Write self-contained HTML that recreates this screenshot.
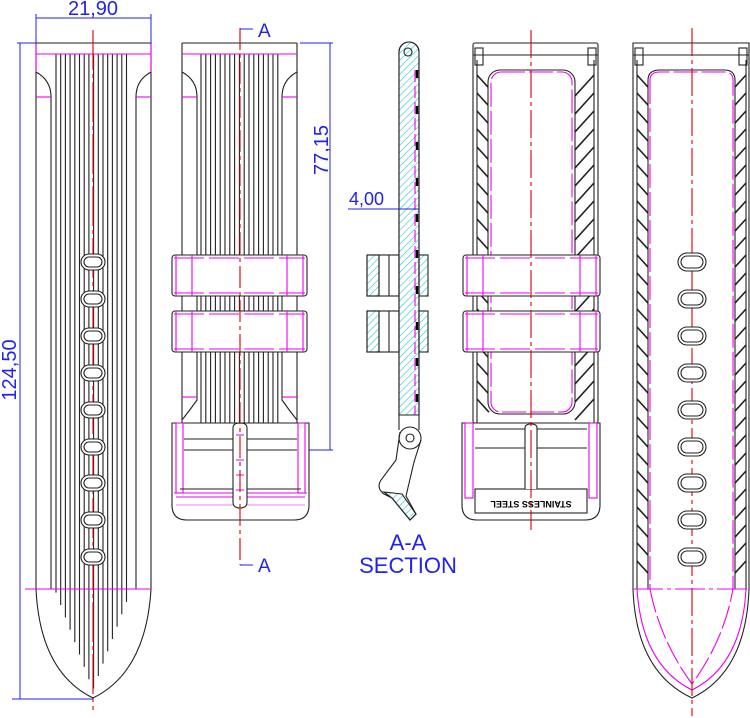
<!DOCTYPE html>
<html><head><meta charset="utf-8"><style>
html,body{margin:0;padding:0;background:#fff;}
svg{display:block;}
text{font-family:"Liberation Sans",sans-serif;}
</style></head><body>
<svg id="s" width="750" height="718" viewBox="0 0 750 718" xmlns="http://www.w3.org/2000/svg">
<defs>
<pattern id="cy" width="5" height="5" patternUnits="userSpaceOnUse" patternTransform="rotate(45)">
<line x1="0" y1="0" x2="0" y2="5" stroke="#22c8d8" stroke-width="1.2"/></pattern>
</defs>
<g fill="none" stroke="#222" stroke-width="1.1">
<!-- VIEW 1 -->
<path d="M36,43 L36,589 Q40,672 93,698 Q146,672 151,589 L151,43 Z"/>
<path d="M36,72 Q51,80 51,97 L51,589 M151,72 Q136,80 136,97 L136,589"/>
<g id="rib1"></g>
<line x1="36" y1="54" x2="151" y2="54" stroke="#e0e"/>
<line x1="36" y1="97" x2="51" y2="97" stroke="#e0e"/>
<line x1="136" y1="97" x2="151" y2="97" stroke="#e0e"/>
<line x1="36" y1="44" x2="36" y2="72" stroke="#e0e"/>
<line x1="151" y1="44" x2="151" y2="72" stroke="#e0e"/>
<line x1="25" y1="589" x2="151" y2="589" stroke="#e0e"/>
<line x1="93" y1="30" x2="93" y2="710" stroke="#d00" stroke-dasharray="40,4,4,4"/>
<g id="holes1"></g>
<!-- VIEW 2 -->
<path d="M182,43 L182,423 M297,43 L297,423 M182,43 L297,43"/>
<path d="M182,72 Q197,80 197,97 L197,400 Q190,410 182,420 M297,72 Q282,80 282,97 L282,400 Q289,410 297,420"/>
<g id="rib2"></g>
<line x1="182" y1="54" x2="297" y2="54" stroke="#e0e"/>
<line x1="182" y1="97" x2="197" y2="97" stroke="#e0e"/>
<line x1="282" y1="97" x2="297" y2="97" stroke="#e0e"/>
<line x1="182" y1="397" x2="197" y2="397" stroke="#e0e"/>
<line x1="282" y1="397" x2="297" y2="397" stroke="#e0e"/>
<g id="loops2"></g>
<!-- buckle 2 -->
<path d="M172,423 L172,505 Q172,520 187,520 L294,520 Q309,520 309,505 L309,423 Z" fill="#fff"/>
<rect x="176" y="423" width="7" height="70" stroke="#e0e"/>
<rect x="298" y="423" width="7" height="70" stroke="#e0e"/>
<line x1="184" y1="439" x2="297" y2="439"/>
<line x1="184" y1="450" x2="297" y2="450"/>
<line x1="180" y1="489" x2="301" y2="489"/>
<path d="M174,493 L307,493 M176,497 L305,497" stroke="#e0e"/>
<line x1="176" y1="505" x2="305" y2="505" stroke="#e0e" stroke-width=".6"/>
<path d="M233,502 L233,428 Q233,423 240,423 Q247,423 247,428 L247,502 Q247,508 240,508 Q233,508 233,502 Z" fill="#fff"/>
<path d="M236,435 L244,435 M236,460 L244,460 M236,475 L244,475 M236,490 L244,490" stroke="#e0e"/>
<line x1="240" y1="28" x2="240" y2="565" stroke="#d00" stroke-dasharray="22,4,4,4"/>
<!-- VIEW 3 section -->
<path d="M399,52 L399,415 L419,415 L419,52 A10,10 0 0 0 399,52 Z" fill="url(#cy)"/>
<path d="M399,52 L399,430 M419,58 L419,430 M399,52 A10,10 0 0 1 419,52"/>
<circle cx="408" cy="52" r="4"/>
<line x1="417" y1="70" x2="417" y2="415" stroke="#000" stroke-width="2.5" stroke-dasharray="8,28"/>
<line x1="415" y1="70" x2="415" y2="415" stroke="#e0e" stroke-dasharray="12,4"/>
<rect x="367" y="255" width="12" height="41" fill="url(#cy)"/><rect x="367" y="255" width="32" height="41"/><line x1="379" y1="255" x2="379" y2="296"/><line x1="389" y1="255" x2="389" y2="296"/>
<rect x="367" y="311" width="12" height="41" fill="url(#cy)"/><rect x="367" y="311" width="32" height="41"/><line x1="379" y1="311" x2="379" y2="352"/><line x1="389" y1="311" x2="389" y2="352"/>
<rect x="419" y="255" width="9" height="41" fill="url(#cy)"/>
<rect x="419" y="311" width="9" height="41" fill="url(#cy)"/>
<circle cx="410" cy="438" r="11"/><circle cx="410" cy="438" r="4"/>
<path d="M400,432 L396,460 L381,480 Q376,488 384,494 L392,498 L410,520 L416,514 L406,496 L414,462 L421,440" fill="none"/>
<path d="M384,492 L392,498 L410,520 L416,514 L402,494 Z" fill="url(#cy)"/>
<!-- VIEW 4 -->
<rect x="473" y="43" width="125" height="380" rx="2"/>
<line x1="473" y1="55" x2="598" y2="55"/>
<rect x="475" y="48" width="8" height="17"/><rect x="588" y="48" width="8" height="17"/>
<g id="hatch4"></g>
<line x1="477" y1="60" x2="477" y2="423"/><line x1="594" y1="60" x2="594" y2="423"/>
<rect x="488" y="70" width="87" height="344" rx="12" fill="#fff"/>
<rect x="491" y="72" width="81" height="340" rx="10" stroke="#e0e" stroke-dasharray="24,4"/>
<g id="loops4"></g>
<path d="M462,423 L462,505 Q462,520 477,520 L585,520 Q600,520 600,505 L600,423 Z" fill="#fff"/>
<rect x="465" y="423" width="8" height="75" stroke="#e0e"/><rect x="589" y="423" width="8" height="75" stroke="#e0e"/>
<line x1="475" y1="429" x2="587" y2="429"/><line x1="475" y1="448" x2="587" y2="448"/>
<rect x="475" y="489" width="112" height="24"/>
<path d="M525,489 L525,428 Q525,424 531,424 Q537,424 537,428 L537,489" fill="#fff"/>
<line x1="531" y1="30" x2="531" y2="530" stroke="#d00" stroke-dasharray="28,4,4,4"/>
<!-- VIEW 5 -->
<path d="M633,43 L633,589 Q636,672 692,698 Q746,672 749,589 L749,43 Z"/>
<line x1="633" y1="55" x2="749" y2="55"/>
<rect x="635" y="48" width="8" height="17"/><rect x="739" y="48" width="8" height="17"/>
<g id="hatch5"></g>
<line x1="637" y1="60" x2="637" y2="589"/><line x1="746" y1="60" x2="746" y2="589"/>
<path d="M648,589 L648,80 Q648,70 660,70 L724,70 Q735,70 735,80 L735,589" fill="#fff"/>
<path d="M650,80 Q650,72 660,72 L724,72 Q733,72 733,80 L733,589" stroke="#e0e" stroke-dasharray="24,4"/>
<line x1="650" y1="80" x2="650" y2="589" stroke="#e0e" stroke-dasharray="24,4"/>
<path d="M637,589 Q642,665 692,690 Q742,665 746,589" stroke="#e0e"/>
<path d="M650,589 Q660,640 692,684 Q724,640 733,589" stroke="#e0e" stroke-dasharray="24,4"/>
<line x1="633" y1="589" x2="749" y2="589" stroke="#e0e" stroke-dasharray="30,4,4,4"/>
<line x1="692" y1="28" x2="692" y2="716" stroke="#d00" stroke-dasharray="28,4,4,4"/>
<g id="holes5"></g>
</g>
<!-- dimensions -->
<g stroke="#22e" fill="none" stroke-width="1">
<line x1="36" y1="18" x2="151" y2="18"/><line x1="36" y1="14" x2="36" y2="43"/><line x1="151" y1="14" x2="151" y2="43"/>
<line x1="20" y1="43" x2="20" y2="699"/><line x1="17" y1="43" x2="36" y2="43"/><line x1="12" y1="699" x2="93" y2="699"/>
<line x1="330" y1="43" x2="330" y2="450"/><line x1="300" y1="43" x2="333" y2="43"/><line x1="309" y1="450" x2="333" y2="450"/>
<line x1="348" y1="209" x2="419" y2="209"/>
<path d="M240,29 L253,29 M240,565 L253,565"/>
</g>
<g fill="#22e" font-size="19">
<text x="93" y="15" text-anchor="middle" font-size="20">21,90</text>
<text transform="translate(16,370) rotate(-90)" text-anchor="middle" font-size="20">124,50</text>
<text transform="translate(328,150) rotate(-90)" text-anchor="middle" font-size="20">77,15</text>
<text x="349" y="205" font-size="18">4,00</text>
<text x="258" y="37" font-size="19">A</text>
<text x="258" y="572" font-size="19">A</text>
<text x="408" y="550" text-anchor="middle" font-size="22">A-A</text>
<text x="408" y="573" text-anchor="middle" font-size="22">SECTION</text>
</g>
<text transform="translate(531,501) rotate(180)" text-anchor="middle" font-size="9" font-weight="bold" fill="#000">STAINLESS STEEL</text>
<script>
var NS="http://www.w3.org/2000/svg";
function el(p,t,a){var e=document.createElementNS(NS,t);for(var k in a)e.setAttribute(k,a[k]);document.getElementById(p).appendChild(e);return e;}
for(var x=56;x<=131;x+=4.7){var d=Math.abs(x-93)/38;var yb=690-d*100;el("rib1","line",{x1:x,y1:54,x2:x,y2:yb});}
for(var x=201;x<=278;x+=4.8){el("rib2","line",{x1:x,y1:54,x2:x,y2:439});}
var hy=[262,299,336,373,410,447,483,520,557];
hy.forEach(function(y){el("holes1","rect",{x:81,y:y-8,width:24,height:16,rx:8,fill:"#fff"});el("holes1","rect",{x:84,y:y-5,width:18,height:10,rx:5});
el("holes5","rect",{x:678,y:y-9,width:28,height:18,rx:9,fill:"#fff"});el("holes5","rect",{x:681,y:y-6,width:22,height:12,rx:6});});
function hatch(g,x0,x1,y0,y1,dir){for(var y=y0;y+ (x1-x0)<=y1;y+=18){
 if(dir>0)el(g,"line",{x1:x0,y1:y,x2:x1,y2:y+(x1-x0)*1.1,"stroke-width":1.6});
 else el(g,"line",{x1:x1,y1:y,x2:x0,y2:y+(x1-x0)*1.1,"stroke-width":1.6});}}
hatch("hatch4",477,489,75,423,1);hatch("hatch4",575,594,75,423,-1);
hatch("hatch5",637,648,75,589,1);hatch("hatch5",735,746,75,589,-1);
[["loops2",172,307],["loops4",463,600]].forEach(function(L){[255,311].forEach(function(y){
el(L[0],"rect",{x:L[1],y:y,width:L[2]-L[1],height:41,rx:3,fill:"#fff"});
el(L[0],"line",{x1:L[1]+2,y1:y+3,x2:L[2]-2,y2:y+3,stroke:"#e0e","stroke-dasharray":"30,5"});
el(L[0],"line",{x1:L[1]+2,y1:y+38,x2:L[2]-2,y2:y+38,stroke:"#e0e","stroke-dasharray":"30,5"});
[4,20,L[2]-L[1]-20,L[2]-L[1]-4].forEach(function(o){el(L[0],"line",{x1:L[1]+o,y1:y,x2:L[1]+o,y2:y+41,stroke:"#e0e"});});});});
</script>
</svg>
</body></html>
